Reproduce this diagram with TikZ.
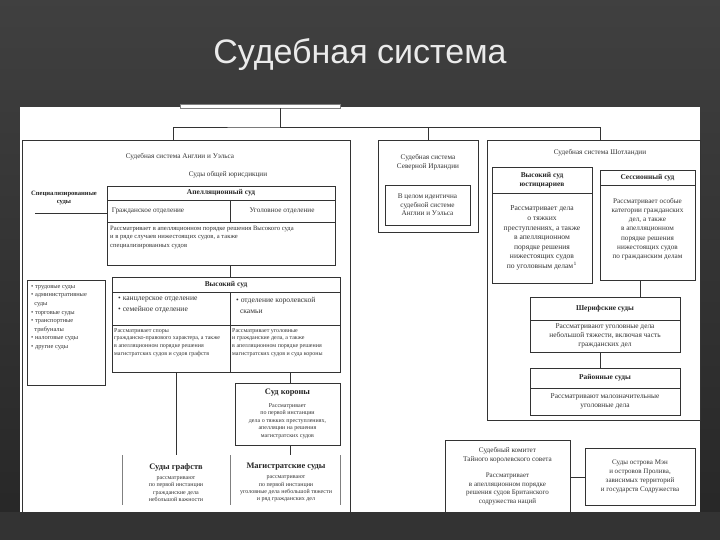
\documentclass[tikz,border=0pt]{standalone}
\usepackage{fontspec}
\setmainfont{Liberation Serif}
\newfontfamily\titlefont{Liberation Sans}
\begin{document}
\begin{tikzpicture}[x=1pt,y=-1pt,
  bx/.style={draw=black!80,line width=0.5pt,anchor=north west,inner sep=0pt,fill=white},
  tx/.style={font=\fontsize{7.2}{8.4}\selectfont,align=center,inner sep=0pt,text=black!80},
  hd/.style={font=\bfseries\fontsize{7.4}{8.6}\selectfont,align=center,inner sep=0pt,text=black!85},
  ln/.style={draw=black!80,line width=0.5pt}]
\shade[top color=black!75,bottom color=black!85] (0,0) rectangle (720,540);
\useasboundingbox (0,0) rectangle (720,540);
\fill[white] (20,107) rectangle (700,512);
\node[font=\titlefont\fontsize{34}{40}\selectfont,text=black!8] (title) at (360,55) {Судебная система};
% top sliver box
\node[bx,minimum width=160pt,minimum height=4pt,draw=black!50] (top) at (180,104) {};
\coordinate (hub) at (280,127);
% England
\node[bx,minimum width=328pt,minimum height=372pt,fill=none] (eng) at (22,140) {};
\node[tx] (engt) at (180,157) {Судебная система Англии и Уэльса};
\node[tx] (gen) at (228,175) {Суды общей юрисдикции};
\node[bx,minimum width=228pt,minimum height=79pt] (app) at (107,186) {};
\draw[ln] (107,200)--(335,200) (107,222)--(335,222) (230,200)--(230,222);
\node[hd] (appt) at (221,193) {Апелляционный суд};
\node[tx] (appl) at (148,211) {Гражданское отделение};
\node[tx] (appr) at (282,211) {Уголовное отделение};
\node[tx,align=left,anchor=north west,font=\fontsize{6.6}{8.4}\selectfont] (appb) at (110,226) {Рассматривает в апелляционном порядке решения Высокого суда\\и в ряде случаев нижестоящих судов, а также\\специализированных судов};
\node[hd,font=\bfseries\fontsize{6.6}{7.6}\selectfont] (spec) at (64,198) {Специализированные\\суды};
\coordinate (specend) at (35,213);
\draw[ln] (specend) -- (app.west |- specend);
% High court
\node[bx,minimum width=228pt,minimum height=95pt] (high) at (112,277) {};
\draw[ln] (app.south -| 230,0) -- (high.north -| 230,0);
\draw[ln] (112,292)--(340,292) (112,325)--(340,325) (230,292)--(230,372);
\node[hd] (hight) at (226,284.5) {Высокий суд};
\node[tx,align=left,anchor=north west,font=\fontsize{7.6}{11}\selectfont] (highl) at (118,297) {• канцлерское отделение\\• семейное отделение};
\node[tx,align=left,anchor=north west,font=\fontsize{7.6}{11}\selectfont] (highr) at (236,297) {• отделение королевской\\\ \ скамьи};
\node[tx,align=left,anchor=north west,font=\fontsize{6}{7.8}\selectfont] (highbl) at (114,328) {Рассматривает споры\\гражданско-правового характера, а также\\в апелляционном порядке решения\\магистратских судов и судов графств};
\node[tx,align=left,anchor=north west,font=\fontsize{6}{7.8}\selectfont] (highbr) at (232,328) {Рассматривает уголовные\\и гражданские дела, а также\\в апелляционном порядке решения\\магистратских судов и суда короны};
% left list
\node[bx,minimum width=78pt,minimum height=105pt] (list) at (27,280) {};
\node[tx,align=left,anchor=north west,font=\fontsize{6.4}{8.6}\selectfont] (listt) at (31,285) {• трудовые суды\\• административные\\\ \ суды\\• торговые суды\\• транспортные\\\ \ трибуналы\\• налоговые суды\\• другие суды};
% Crown court
\node[bx,minimum width=105pt,minimum height=62pt] (crown) at (235,383) {};
\draw[ln] (high.south -| 290,0) -- (crown.north -| 290,0);
\node[hd,font=\bfseries\fontsize{8.4}{9.4}\selectfont] (crownt) at (287.5,393) {Суд короны};
\node[tx,font=\fontsize{6}{7.4}\selectfont] (crownb) at (287.5,421) {Рассматривает\\по первой инстанции\\дела о тяжких преступлениях,\\апелляции на решения\\магистратских судов};
% County and magistrates
\coordinate (cty) at (176,455);
\coordinate (mag) at (290,455);
\draw[ln] (high.south -| cty) -- (cty);
\draw[ln] (crown.south -| mag) -- (mag);
\draw[ln,draw=black!50] (122,455)--(122,505) (230,455)--(230,505) (340,455)--(340,505);
\node[hd,font=\bfseries\fontsize{8.4}{9.4}\selectfont] (ctyt) at (176,467) {Суды графств};
\node[tx,font=\fontsize{6}{7.4}\selectfont] (ctyb) at (176,489) {рассматривают\\по первой инстанции\\гражданские дела\\небольшой важности};
\node[hd,font=\bfseries\fontsize{8.4}{9.4}\selectfont] (magt) at (286,467) {Магистратские суды};
\node[tx,font=\fontsize{6}{7.4}\selectfont] (magb) at (286,489) {рассматривают\\по первой инстанции\\уголовные дела небольшой тяжести\\и ряд гражданских дел};
% Northern Ireland
\node[bx,minimum width=100pt,minimum height=92pt] (ni) at (378,140) {};
\node[tx] (nit) at (428,162) {Судебная система\\Северной Ирландии};
\node[bx,minimum width=85pt,minimum height=40pt] (nii) at (385,185) {};
\node[tx] (niit) at (427.5,205) {В целом идентична\\судебной системе\\Англии и Уэльса};
% Scotland
\node[bx,minimum width=213pt,minimum height=280pt,fill=none] (sc) at (487,140) {};
\node[tx] (sct) at (600,153) {Судебная система Шотландии};
\node[bx,minimum width=100pt,minimum height=116pt] (hcj) at (492,167) {};
\draw[ln] (492,193)--(592,193);
\node[hd] (hcjt) at (542,180) {Высокий суд\\юстициариев};
\node[tx,font=\fontsize{7.6}{9.6}\selectfont] (hcjb) at (542,238) {Рассматривает дела\\о тяжких\\преступлениях, а также\\в апелляционном\\порядке решения\\нижестоящих судов\\по уголовным делам$^1$};
\node[bx,minimum width=95pt,minimum height=110pt] (ses) at (600,170) {};
\draw[ln] (600,185)--(695,185);
\node[hd] (sest) at (647.5,177.5) {Сессионный суд};
\node[tx,font=\fontsize{7.2}{9.2}\selectfont] (sesb) at (647.5,229) {Рассматривает особые\\категории гражданских\\дел, а также\\в апелляционном\\порядке решения\\нижестоящих судов\\по гражданским делам};
\node[bx,minimum width=150pt,minimum height=55pt] (sher) at (530,297) {};
\draw[ln] (ses.south -| 640,0) -- (sher.north -| 640,0);
\draw[ln] (530,320)--(680,320);
\node[hd] (shert) at (605,308.5) {Шерифские суды};
\node[tx,font=\fontsize{7.4}{9}\selectfont] (sherb) at (605,336) {Рассматривают уголовные дела\\небольшой тяжести, включая часть\\гражданских дел};
\node[bx,minimum width=150pt,minimum height=47pt] (dist) at (530,368) {};
\draw[ln] (sher.south -| 600,0) -- (dist.north -| 600,0);
\draw[ln] (530,388)--(680,388);
\node[hd] (distt) at (605,378) {Районные суды};
\node[tx,font=\fontsize{7.4}{9}\selectfont] (distb) at (605,401) {Рассматривают малозначительные\\уголовные дела};
% top connectors
\draw[ln] (top.south -| hub) -- (hub);
\draw[ln] (eng.north -| 173,0) |- (hub) -| (ni.north);
\draw[ln] (hub) -| (sc.north -| 600,0);
% Privy council
\node[bx,minimum width=125pt,minimum height=72pt] (pc) at (445,440) {};
\node[tx] (pct) at (507.5,455) {Судебный комитет\\Тайного королевского совета};
\node[tx,font=\fontsize{7}{8.6}\selectfont] (pcb) at (507.5,489) {Рассматривает\\в апелляционном порядке\\решения судов Британского\\содружества наций};
\node[bx,minimum width=110pt,minimum height=57pt] (isl) at (585,448) {};
\node[tx,font=\fontsize{7}{8.8}\selectfont] (islt) at (640,476.5) {Суды острова Мэн\\и островов Пролива,\\зависимых территорий\\и государств Содружества};
\draw[ln] (pc.east |- 0,477) -- (isl.west |- 0,477);
\fill[black!80] (0,512) rectangle (720,540);
\end{tikzpicture}
\end{document}
